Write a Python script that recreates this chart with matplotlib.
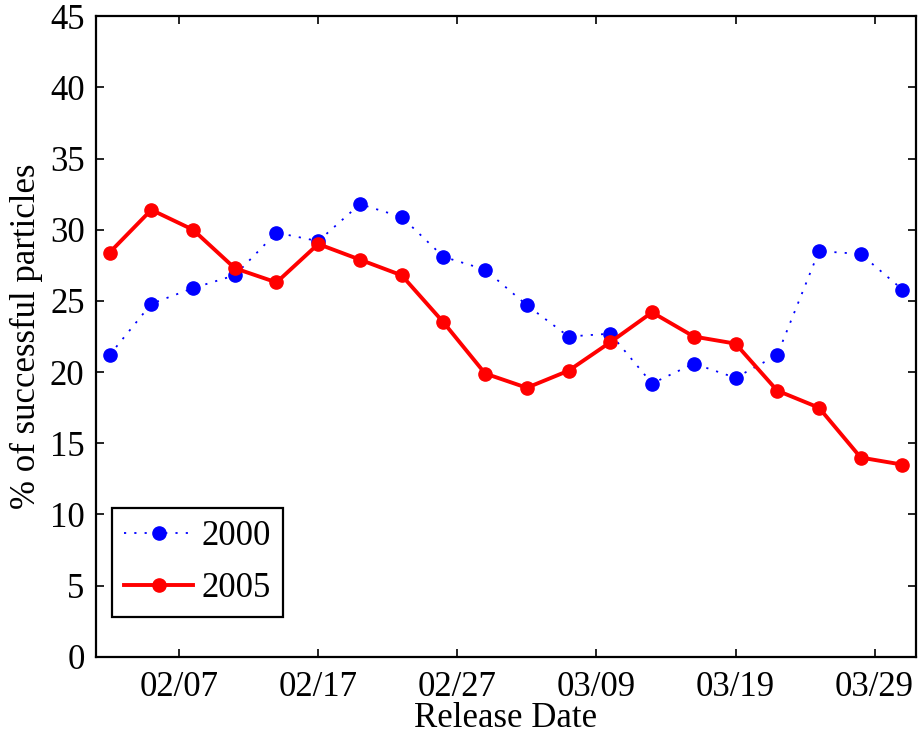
import pandas as pd
import matplotlib.pyplot as plt
import matplotlib.dates as mdates

# Data
release_dates = ['2007-02-02', '2007-02-05', '2007-02-08', '2007-02-11', '2007-02-14',
                 '2007-02-17', '2007-02-20', '2007-02-23', '2007-02-26', '2007-03-01',
                 '2007-03-04', '2007-03-07', '2007-03-10', '2007-03-13', '2007-03-16',
                 '2007-03-19', '2007-03-22', '2007-03-25', '2007-03-28', '2007-03-31']
pct_2000 = [21.2, 24.8, 25.9, 26.8, 29.8, 29.2, 31.8, 30.9, 28.1, 27.2,
            24.7, 22.5, 22.7, 19.2, 20.6, 19.6, 21.2, 28.5, 28.3, 25.8]
pct_2005 = [28.4, 31.4, 30.0, 27.3, 26.3, 29.0, 27.9, 26.8, 23.5, 19.9,
            18.9, 20.1, 22.1, 24.2, 22.5, 22.0, 18.7, 17.5, 14.0, 13.5]
tick_dates = ['2007-02-07', '2007-02-17', '2007-02-27', '2007-03-09', '2007-03-19', '2007-03-29']

x = pd.to_datetime(release_dates)

plt.rcParams['font.family'] = ['Liberation Serif', 'DejaVu Serif']
plt.rcParams['font.size'] = 25

fig = plt.figure(figsize=(9.2, 7.38), dpi=100)
ax = fig.add_axes([0.104, 0.110, 0.892, 0.868])

# Plot series
ax.plot(x, pct_2000, linestyle=(0, (1.2, 4.5)), color='blue', linewidth=1.3,
        marker='o', markersize=9.5, markeredgecolor='blue', label='2000')
ax.plot(x, pct_2005, linestyle='-', color='red', linewidth=2.8,
        marker='o', markersize=9.5, markeredgecolor='red', label='2005')

# Axes formatting
ax.set_xlim(pd.Timestamp('2007-02-01'), pd.Timestamp('2007-04-01'))
ax.set_ylim(0, 45)
ax.set_yticks(range(0, 46, 5))
ax.set_xticks(pd.to_datetime(tick_dates))
ax.xaxis.set_major_formatter(mdates.DateFormatter('%m/%d'))

ax.tick_params(direction='in', length=6, width=1.2, top=True, right=True, labelsize=25)
ax.tick_params(axis='y', pad=8)
ax.tick_params(axis='x', pad=10)
for s in ax.spines.values():
    s.set_linewidth(1.6)

ax.set_xlabel('Release Date', fontsize=25, labelpad=-1)
ax.set_ylabel('% of successful particles', fontsize=25, labelpad=5)

leg = ax.legend(loc='lower left', bbox_to_anchor=(0.0195, 0.062), borderaxespad=0,
                fontsize=25, fancybox=False, edgecolor='black', framealpha=1,
                handlelength=2.0, handletextpad=0.25, borderpad=0.35, labelspacing=0.55)
leg.get_frame().set_linewidth(1.6)

plt.savefig('out.png', dpi=100)
